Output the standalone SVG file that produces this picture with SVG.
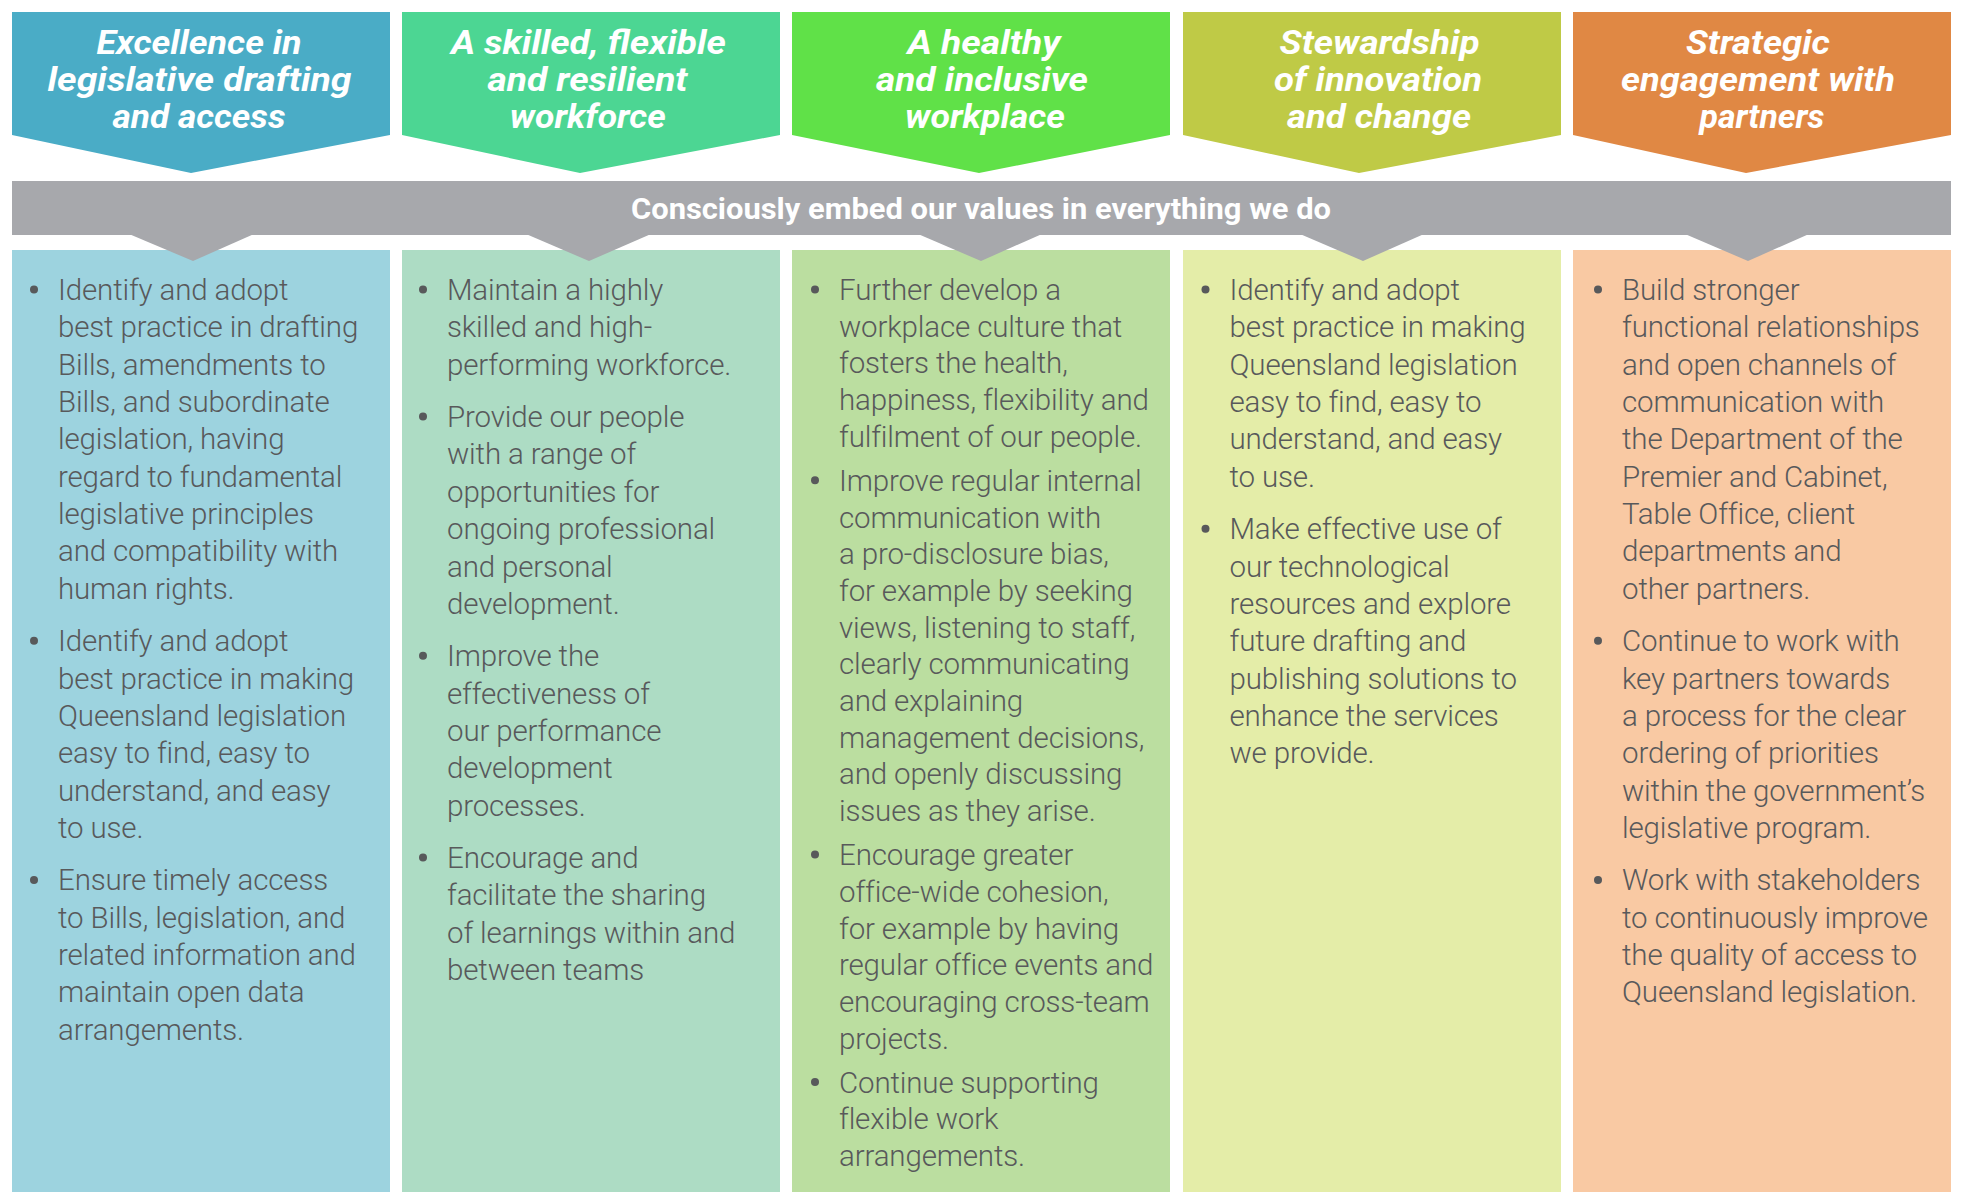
<svg xmlns="http://www.w3.org/2000/svg" width="1963" height="1192" viewBox="0 0 1963 1192">
<style>
.title{font-family:Roboto,"Liberation Sans",Arial,sans-serif;font-weight:700;font-style:italic;font-size:33px;fill:#ffffff;text-anchor:middle}
.band-text{font-family:Roboto,"Liberation Sans",Arial,sans-serif;font-weight:700;font-size:30px;fill:#ffffff;text-anchor:middle}
.body{font-family:Roboto,"Liberation Sans",Arial,sans-serif;font-weight:300;font-size:29.5px;letter-spacing:-0.15px;fill:#58595b}
.dot{fill:#58595b}
.gray{fill:#a7a8ac}
</style>
<rect width="1963" height="1192" fill="#ffffff"/>

<g id="col1">
<polygon points="12,12 390,12 390,135 191,173 12,135" fill="#4aacc6"/>
<text class="title"><tspan x="199" y="54" textLength="205" lengthAdjust="spacingAndGlyphs">Excellence in</tspan><tspan x="199.5" y="91" textLength="304" lengthAdjust="spacingAndGlyphs">legislative drafting</tspan><tspan x="199" y="128" textLength="173" lengthAdjust="spacingAndGlyphs">and access</tspan></text>
<rect x="12" y="250" width="378" height="942" fill="#9dd3df"/>
<circle class="dot" cx="34" cy="289.5" r="4"/><circle class="dot" cx="34" cy="640.7" r="4"/><circle class="dot" cx="34" cy="879.9" r="4"/>
<text class="body">
<tspan x="58" y="300">Identify and adopt</tspan>
<tspan x="58" y="337.35">best practice in drafting</tspan>
<tspan x="58" y="374.7">Bills, amendments to</tspan>
<tspan x="58" y="412.05">Bills, and subordinate</tspan>
<tspan x="58" y="449.4">legislation, having</tspan>
<tspan x="58" y="486.75">regard to fundamental</tspan>
<tspan x="58" y="524.1">legislative principles</tspan>
<tspan x="58" y="561.45">and compatibility with</tspan>
<tspan x="58" y="598.8">human rights.</tspan>
<tspan x="58" y="651.2">Identify and adopt</tspan>
<tspan x="58" y="688.55">best practice in making</tspan>
<tspan x="58" y="725.9">Queensland legislation</tspan>
<tspan x="58" y="763.25">easy to find, easy to</tspan>
<tspan x="58" y="800.6">understand, and easy</tspan>
<tspan x="58" y="837.95">to use.</tspan>
<tspan x="58" y="890.35">Ensure timely access</tspan>
<tspan x="58" y="927.7">to Bills, legislation, and</tspan>
<tspan x="58" y="965.05">related information and</tspan>
<tspan x="58" y="1002.4">maintain open data</tspan>
<tspan x="58" y="1039.75">arrangements.</tspan>
</text>
</g>

<g id="col2">
<polygon points="402,12 780,12 780,135 580,173 402,135" fill="#4cd693"/>
<text class="title"><tspan x="588.4" y="54" textLength="275" lengthAdjust="spacingAndGlyphs">A skilled, flexible</tspan><tspan x="587.5" y="91" textLength="200" lengthAdjust="spacingAndGlyphs">and resilient</tspan><tspan x="587.8" y="128" textLength="156" lengthAdjust="spacingAndGlyphs">workforce</tspan></text>
<rect x="402" y="250" width="378" height="942" fill="#addcc4"/>
<circle class="dot" cx="423" cy="289.5" r="4"/><circle class="dot" cx="423" cy="416.6" r="4"/><circle class="dot" cx="423" cy="655.75" r="4"/><circle class="dot" cx="423" cy="857.55" r="4"/>
<text class="body">
<tspan x="447" y="300">Maintain a highly</tspan>
<tspan x="447" y="337.35">skilled and high-</tspan>
<tspan x="447" y="374.7">performing workforce.</tspan>
<tspan x="447" y="427.1">Provide our people</tspan>
<tspan x="447" y="464.45">with a range of</tspan>
<tspan x="447" y="501.8">opportunities for</tspan>
<tspan x="447" y="539.15">ongoing professional</tspan>
<tspan x="447" y="576.5">and personal</tspan>
<tspan x="447" y="613.85">development.</tspan>
<tspan x="447" y="666.25">Improve the</tspan>
<tspan x="447" y="703.6">effectiveness of</tspan>
<tspan x="447" y="740.95">our performance</tspan>
<tspan x="447" y="778.3">development</tspan>
<tspan x="447" y="815.65">processes.</tspan>
<tspan x="447" y="868.05">Encourage and</tspan>
<tspan x="447" y="905.4">facilitate the sharing</tspan>
<tspan x="447" y="942.75">of learnings within and</tspan>
<tspan x="447" y="980.1">between teams</tspan>
</text>
</g>

<g id="col3">
<polygon points="792,12 1170,12 1170,135 979,173 792,135" fill="#60e148"/>
<text class="title"><tspan x="984" y="54" textLength="153" lengthAdjust="spacingAndGlyphs">A healthy</tspan><tspan x="982" y="91" textLength="212" lengthAdjust="spacingAndGlyphs">and inclusive</tspan><tspan x="985" y="128" textLength="160" lengthAdjust="spacingAndGlyphs">workplace</tspan></text>
<rect x="792" y="250" width="378" height="942" fill="#bbdea0"/>
<circle class="dot" cx="815" cy="289.5" r="4"/><circle class="dot" cx="815" cy="480.3" r="4"/><circle class="dot" cx="815" cy="854.6" r="4"/><circle class="dot" cx="815" cy="1082.1" r="4"/>
<text class="body">
<tspan x="839" y="300">Further develop a</tspan>
<tspan x="839" y="336.7">workplace culture that</tspan>
<tspan x="839" y="373.4">fosters the health,</tspan>
<tspan x="839" y="410.1">happiness, flexibility and</tspan>
<tspan x="839" y="446.8">fulfilment of our people.</tspan>
<tspan x="839" y="490.8">Improve regular internal</tspan>
<tspan x="839" y="527.5">communication with</tspan>
<tspan x="839" y="564.2">a pro-disclosure bias,</tspan>
<tspan x="839" y="600.9">for example by seeking</tspan>
<tspan x="839" y="637.6">views, listening to staff,</tspan>
<tspan x="839" y="674.3">clearly communicating</tspan>
<tspan x="839" y="711">and explaining</tspan>
<tspan x="839" y="747.7">management decisions,</tspan>
<tspan x="839" y="784.4">and openly discussing</tspan>
<tspan x="839" y="821.1">issues as they arise.</tspan>
<tspan x="839" y="865.1">Encourage greater</tspan>
<tspan x="839" y="901.8">office-wide cohesion,</tspan>
<tspan x="839" y="938.5">for example by having</tspan>
<tspan x="839" y="975.2">regular office events and</tspan>
<tspan x="839" y="1011.9">encouraging cross-team</tspan>
<tspan x="839" y="1048.6">projects.</tspan>
<tspan x="839" y="1092.6">Continue supporting</tspan>
<tspan x="839" y="1129.3">flexible work</tspan>
<tspan x="839" y="1166">arrangements.</tspan>
</text>
</g>

<g id="col4">
<polygon points="1183,12 1561,12 1561,135 1359,173 1183,135" fill="#bfca46"/>
<text class="title"><tspan x="1379.6" y="54" textLength="200" lengthAdjust="spacingAndGlyphs">Stewardship</tspan><tspan x="1378" y="91" textLength="208" lengthAdjust="spacingAndGlyphs">of innovation</tspan><tspan x="1379" y="128" textLength="184" lengthAdjust="spacingAndGlyphs">and change</tspan></text>
<rect x="1183" y="250" width="378" height="942" fill="#e4eda8"/>
<circle class="dot" cx="1205.5" cy="289.5" r="4"/><circle class="dot" cx="1205.5" cy="528.65" r="4"/>
<text class="body">
<tspan x="1229.5" y="300">Identify and adopt</tspan>
<tspan x="1229.5" y="337.35">best practice in making</tspan>
<tspan x="1229.5" y="374.7">Queensland legislation</tspan>
<tspan x="1229.5" y="412.05">easy to find, easy to</tspan>
<tspan x="1229.5" y="449.4">understand, and easy</tspan>
<tspan x="1229.5" y="486.75">to use.</tspan>
<tspan x="1229.5" y="539.15">Make effective use of</tspan>
<tspan x="1229.5" y="576.5">our technological</tspan>
<tspan x="1229.5" y="613.85">resources and explore</tspan>
<tspan x="1229.5" y="651.2">future drafting and</tspan>
<tspan x="1229.5" y="688.55">publishing solutions to</tspan>
<tspan x="1229.5" y="725.9">enhance the services</tspan>
<tspan x="1229.5" y="763.25">we provide.</tspan>
</text>
</g>

<g id="col5">
<polygon points="1573,12 1951,12 1951,135 1746,173 1573,135" fill="#e08844"/>
<text class="title"><tspan x="1758" y="54" textLength="144" lengthAdjust="spacingAndGlyphs">Strategic</tspan><tspan x="1758" y="91" textLength="274" lengthAdjust="spacingAndGlyphs">engagement with</tspan><tspan x="1762" y="128" textLength="125" lengthAdjust="spacingAndGlyphs">partners</tspan></text>
<rect x="1573" y="250" width="378" height="942" fill="#f9c9a3"/>
<circle class="dot" cx="1598" cy="289.5" r="4"/><circle class="dot" cx="1598" cy="640.7" r="4"/><circle class="dot" cx="1598" cy="879.9" r="4"/>
<text class="body">
<tspan x="1622" y="300">Build stronger</tspan>
<tspan x="1622" y="337.35">functional relationships</tspan>
<tspan x="1622" y="374.7">and open channels of</tspan>
<tspan x="1622" y="412.05">communication with</tspan>
<tspan x="1622" y="449.4">the Department of the</tspan>
<tspan x="1622" y="486.75">Premier and Cabinet,</tspan>
<tspan x="1622" y="524.1">Table Office, client</tspan>
<tspan x="1622" y="561.45">departments and</tspan>
<tspan x="1622" y="598.8">other partners.</tspan>
<tspan x="1622" y="651.2">Continue to work with</tspan>
<tspan x="1622" y="688.55">key partners towards</tspan>
<tspan x="1622" y="725.9">a process for the clear</tspan>
<tspan x="1622" y="763.25">ordering of priorities</tspan>
<tspan x="1622" y="800.6">within the government’s</tspan>
<tspan x="1622" y="837.95">legislative program.</tspan>
<tspan x="1622" y="890.35">Work with stakeholders</tspan>
<tspan x="1622" y="927.7">to continuously improve</tspan>
<tspan x="1622" y="965.05">the quality of access to</tspan>
<tspan x="1622" y="1002.4">Queensland legislation.</tspan>
</text>
</g>

<g id="values-band">
<rect class="gray" x="12" y="181" width="1939" height="54"/>
<polygon class="gray" points="129,234 254,234 193,261"/>
<polygon class="gray" points="526,234 651,234 589,261"/>
<polygon class="gray" points="918,234 1042,234 981,261"/>
<polygon class="gray" points="1300,234 1424,234 1363,261"/>
<polygon class="gray" points="1685,234 1809,234 1748,261"/>
<text class="band-text" x="981" y="218.5" textLength="700" lengthAdjust="spacingAndGlyphs">Consciously embed our values in everything we do</text>
</g>
</svg>
